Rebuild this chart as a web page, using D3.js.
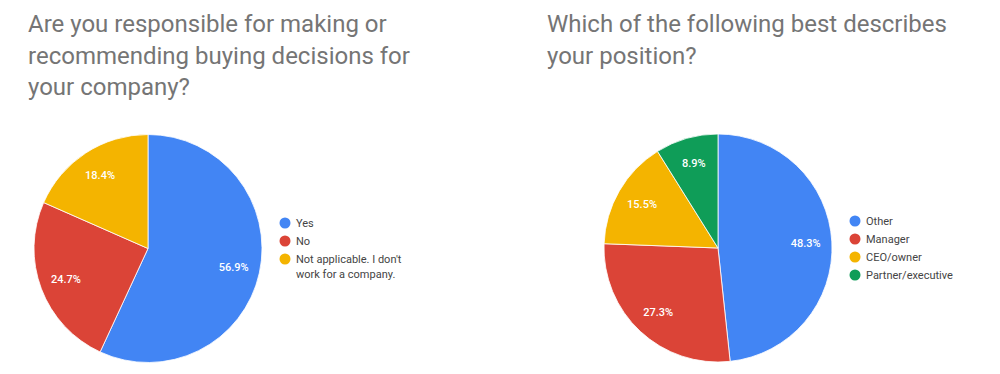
<!DOCTYPE html>
<meta charset="utf-8">
<style>
  body { margin: 0; background: #fff; }
  * { font-family: 'Roboto', 'Arial', sans-serif; }
</style>
<svg width="1000" height="374"></svg>
<script src="https://cdn.jsdelivr.net/npm/d3@7"></script>
<script>
// chart 1
var title1 = ["Are you responsible for making or", "recommending buying decisions for", "your company?"];
var labels1 = ["Yes", "No", "Not applicable. I don't work for a company."];
var values1 = [56.9, 24.7, 18.4];

// chart 2
var title2 = ["Which of the following best describes", "your position?"];
var labels2 = ["Other", "Manager", "CEO/owner", "Partner/executive"];
var values2 = [48.3, 27.3, 15.5, 8.9];

var colors = ["#4285f4", "#db4437", "#f4b400", "#0f9d58"];

var svg = d3.select("svg");

function drawChart(cfg) {
  var g = svg.append("g");

  g.append("text")
      .attr("fill", "#757575")
      .style("font-size", "24px")
    .selectAll("tspan")
    .data(cfg.title)
    .enter().append("tspan")
      .attr("x", cfg.titleX)
      .attr("y", function(d, i) { return 32 + i * 31.5; })
      .text(function(d) { return d; });

  var data = cfg.labels.map(function(l, i) { return {label: l, value: cfg.values[i]}; });
  var pie = d3.pie().sort(null).value(function(d) { return d.value; });
  var arc = d3.arc().innerRadius(0).outerRadius(cfg.r);
  var labelArc = d3.arc().innerRadius(cfg.r * 0.77).outerRadius(cfg.r * 0.77);
  var color = d3.scaleOrdinal().domain(cfg.labels).range(colors);

  var pg = g.append("g").attr("transform", "translate(" + cfg.cx + "," + cfg.cy + ")");
  var arcs = pie(data);

  pg.selectAll("path")
    .data(arcs)
    .enter().append("path")
      .attr("d", arc)
      .attr("fill", function(d) { return color(d.data.label); })
      .attr("stroke", "#fff")
      .attr("stroke-width", 0.8);

  pg.selectAll("text")
    .data(arcs)
    .enter().append("text")
      .attr("transform", function(d) { return "translate(" + labelArc.centroid(d) + ")"; })
      .attr("text-anchor", "middle")
      .attr("dy", "0.35em")
      .attr("fill", "#fff")
      .style("font-size", "11px")
      .style("font-weight", "500")
      .text(function(d) { return d.data.value.toFixed(1) + "%"; });

  // legend
  var lg = g.append("g").attr("transform", "translate(" + cfg.legX + "," + cfg.legY + ")");
  var yy = 0;
  data.forEach(function(d) {
    lg.append("circle")
        .attr("cx", 0)
        .attr("cy", yy)
        .attr("r", 5.5)
        .attr("fill", color(d.label));
    var t = lg.append("text")
        .attr("fill", "#444")
        .style("font-size", "11px");
    // simple word wrap
    var words = d.label.split(" "), line = [], n = 0;
    var ts = t.append("tspan").attr("x", 11).attr("y", yy).attr("dy", "0.35em");
    words.forEach(function(w) {
      line.push(w);
      ts.text(line.join(" "));
      if (ts.node().getComputedTextLength() > cfg.legW && line.length > 1) {
        line.pop();
        ts.text(line.join(" "));
        line = [w];
        n++;
        ts = t.append("tspan").attr("x", 11).attr("y", yy + n * 15.5).attr("dy", "0.35em").text(w);
      }
    });
    yy += 18 + n * 15.5;
  });
}

drawChart({title: title1, titleX: 28, labels: labels1, values: values1,
  cx: 148, cy: 248.5, r: 114, legX: 285, legY: 223, legW: 110});
drawChart({title: title2, titleX: 547, labels: labels2, values: values2,
  cx: 718, cy: 248, r: 114, legX: 855, legY: 221, legW: 120});
</script>
